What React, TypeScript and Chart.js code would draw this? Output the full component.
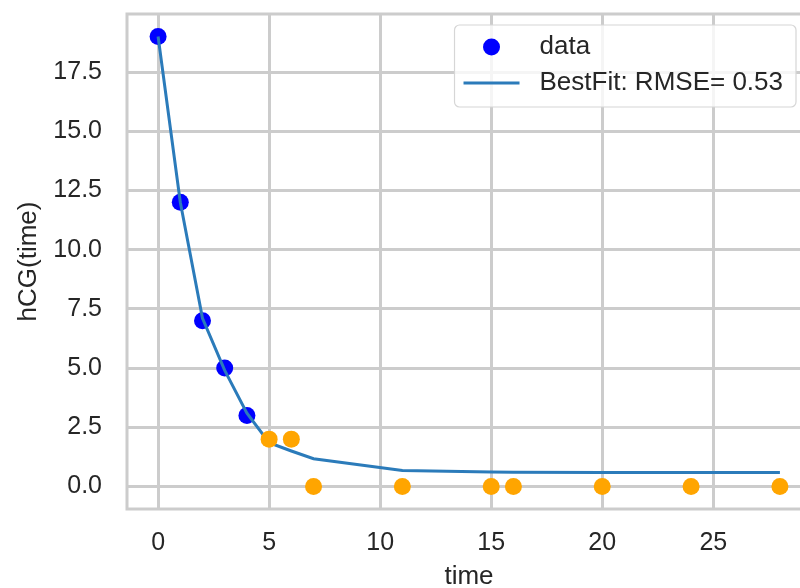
import React, { useEffect, useRef } from "react";
import { Chart, registerables } from "chart.js";

Chart.register(...registerables);

// ---- data ----
const dataTime = [0, 1, 2, 3, 4];
const dataHcg = [19, 12, 7, 5, 3];
const otherTime = [5, 6, 7, 11, 15, 16, 20, 24, 28];
const otherHcg = [2, 2, 0, 0, 0, 0, 0, 0, 0];
const fitTime = [0, 1, 2, 3, 4, 5, 6, 7, 11, 15, 16, 20, 24, 28];
const fitHcg = [19.0, 12.0, 7.1, 4.9, 3.1, 1.85, 1.5, 1.17, 0.68, 0.61, 0.6, 0.59, 0.59, 0.59];
const xTicks = [0, 5, 10, 15, 20, 25];
const yTicks = [0, 2.5, 5, 7.5, 10, 12.5, 15, 17.5];
const dataLabel = "data";
const fitLabel = "BestFit: RMSE= 0.53";
const xTitle = "time";
const yTitle = "hCG(time)";

const FONT = "'Liberation Sans', Arial, Helvetica, sans-serif";
const TEXT = "#262626";
const GRID = "#cccccc";
const BLUE = "#0000ff";
const ORANGE = "#ffa500";
const LINE = "#2b7bba";

const frameAndLegend = {
  id: "frameAndLegend",
  beforeDatasetsDraw(chart: any) {
    const { ctx, chartArea: a } = chart;
    ctx.save();
    ctx.strokeStyle = GRID;
    ctx.lineWidth = 3;
    ctx.strokeRect(a.left, a.top, a.right - a.left, a.bottom - a.top);
    ctx.restore();
  },
  afterDatasetsDraw(chart: any) {
    const { ctx, chartArea: a } = chart;
    ctx.save();
    ctx.font = `26px ${FONT}`;
    const tw = Math.max(ctx.measureText(dataLabel).width, ctx.measureText(fitLabel).width);
    const w = 85 + tw + 13;
    const h = 82;
    const right = a.right - 15;
    const left = right - w;
    const top = a.top + 11;
    ctx.beginPath();
    if ((ctx as any).roundRect) (ctx as any).roundRect(left, top, w, h, 5);
    else ctx.rect(left, top, w, h);
    ctx.fillStyle = "rgba(255,255,255,0.8)";
    ctx.fill();
    ctx.strokeStyle = "#d6d6d6";
    ctx.lineWidth = 1.2;
    ctx.stroke();
    // marker
    ctx.beginPath();
    ctx.arc(left + 37, top + 22, 8.5, 0, Math.PI * 2);
    ctx.fillStyle = BLUE;
    ctx.fill();
    // line sample
    ctx.beginPath();
    ctx.moveTo(left + 9, top + 58);
    ctx.lineTo(left + 65, top + 58);
    ctx.strokeStyle = LINE;
    ctx.lineWidth = 3;
    ctx.stroke();
    ctx.fillStyle = TEXT;
    ctx.textBaseline = "middle";
    ctx.textAlign = "left";
    ctx.fillText(dataLabel, left + 85, top + 22);
    ctx.fillText(fitLabel, left + 85, top + 58);
    ctx.restore();
  },
};

export default function App() {
  const ref = useRef<HTMLCanvasElement | null>(null);
  useEffect(() => {
    if (!ref.current) return;
    const chart = new Chart(ref.current, {
      type: "scatter",
      data: {
        datasets: [
          {
            label: "excluded",
            data: otherTime.map((t, i) => ({ x: t, y: otherHcg[i] })),
            backgroundColor: ORANGE,
            borderWidth: 0,
            pointRadius: 8.5,
            order: 0,
          },
          {
            type: "line",
            label: fitLabel,
            data: fitTime.map((t, i) => ({ x: t, y: fitHcg[i] })),
            borderColor: LINE,
            borderWidth: 3,
            pointRadius: 0,
            fill: false,
            tension: 0,
            order: 1,
          } as any,
          {
            label: dataLabel,
            data: dataTime.map((t, i) => ({ x: t, y: dataHcg[i] })),
            backgroundColor: BLUE,
            borderWidth: 0,
            pointRadius: 8.5,
            order: 2,
          },
        ],
      },
      options: {
        responsive: false,
        animation: false,
        devicePixelRatio: 1,
        layout: { padding: { top: 14, right: 11, left: 0, bottom: 0 } },
        plugins: { legend: { display: false }, tooltip: { enabled: false } },
        scales: {
          x: {
            type: "linear",
            min: -1.4,
            max: 29.4,
            afterBuildTicks: (s: any) => {
              s.ticks = xTicks.map((v) => ({ value: v }));
            },
            afterFit: (s: any) => {
              s.height = 79;
              s.paddingLeft = 0;
              s.paddingRight = 0;
              s.paddingTop = 0;
              s.paddingBottom = 0;
            },
            grid: { color: GRID, lineWidth: 3, drawTicks: false },
            border: { display: false },
            ticks: {
              padding: 19,
              color: TEXT,
              font: { family: FONT, size: 25 },
              callback: (v: any) => String(v),
            },
            title: {
              display: true,
              text: xTitle,
              color: TEXT,
              font: { family: FONT, size: 26, lineHeight: 1 },
              padding: { top: 0, bottom: -2 },
            },
          },
          y: {
            type: "linear",
            min: -0.95,
            max: 19.95,
            afterBuildTicks: (s: any) => {
              s.ticks = yTicks.map((v) => ({ value: v }));
            },
            afterFit: (s: any) => {
              s.width = 127;
              s.paddingLeft = 0;
              s.paddingRight = 0;
              s.paddingTop = 0;
              s.paddingBottom = 0;
            },
            grid: { color: GRID, lineWidth: 3, drawTicks: false },
            border: { display: false },
            ticks: {
              padding: 25,
              color: TEXT,
              font: { family: FONT, size: 25 },
              callback: (v: any) => Number(v).toFixed(1),
            },
            title: {
              display: true,
              text: yTitle,
              color: TEXT,
              font: { family: FONT, size: 26, lineHeight: 1.2 },
              padding: { top: 13, bottom: 0 },
            },
          },
        },
      },
      plugins: [frameAndLegend],
    });
    return () => chart.destroy();
  }, []);
  return (
    <div
      style={{
        position: "absolute",
        left: 0,
        top: 0,
        width: 800,
        height: 588,
        overflow: "hidden",
        background: "#ffffff",
      }}
    >
      <canvas ref={ref} width={822} height={588} style={{ display: "block", width: 822, height: 588 }} />
    </div>
  );
}
